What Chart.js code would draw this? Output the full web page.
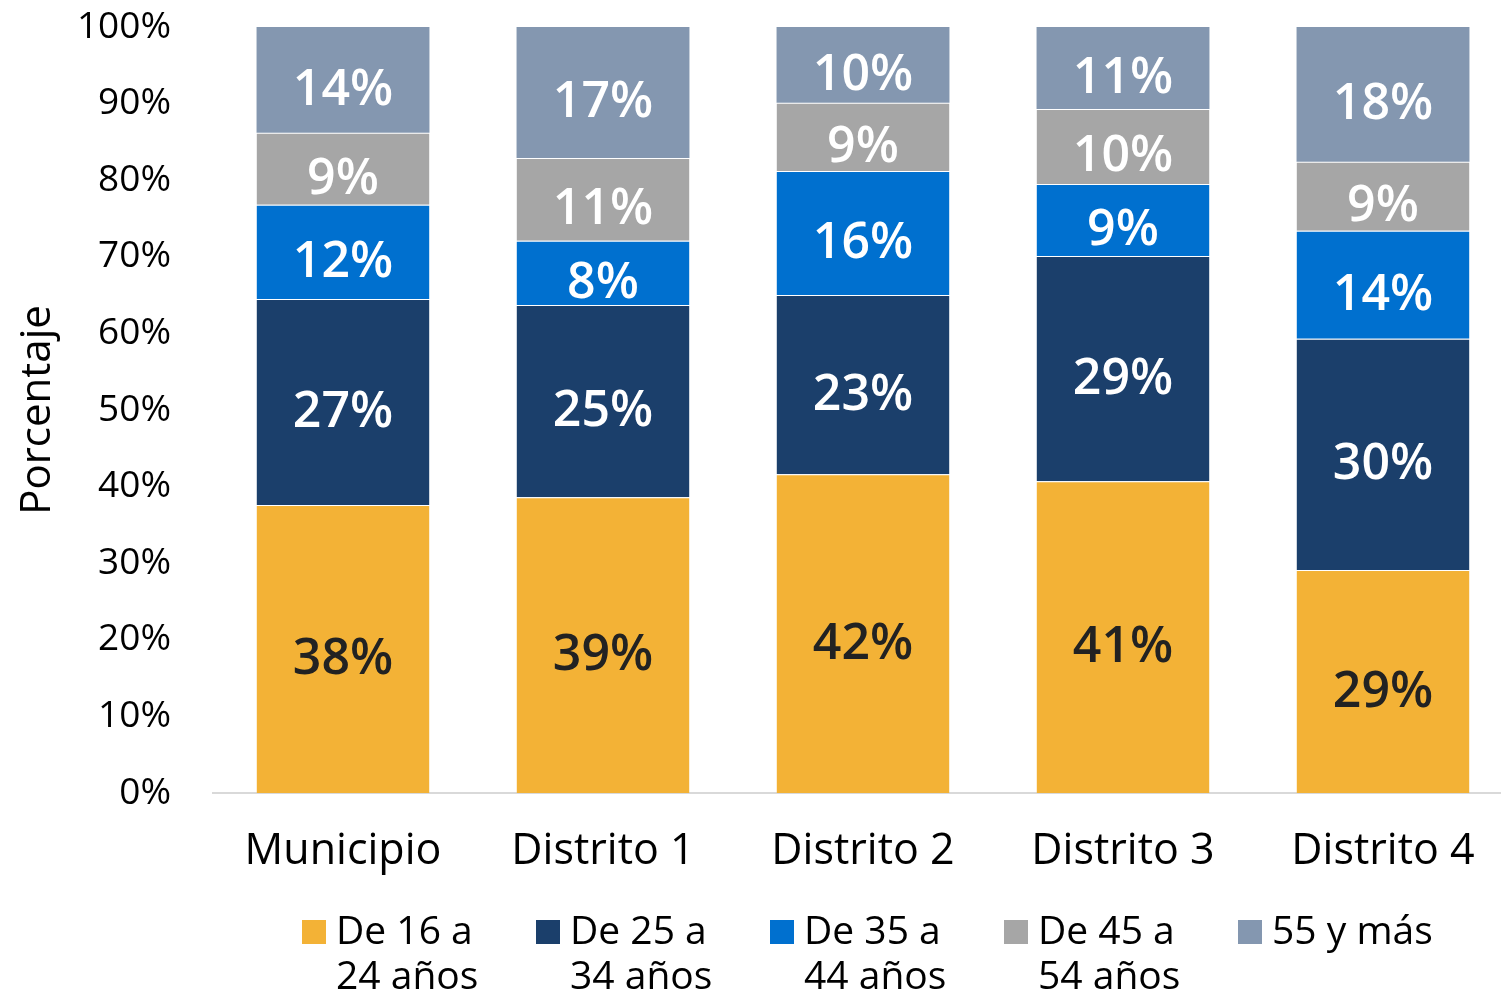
<!DOCTYPE html>
<html>
<head>
<meta charset="utf-8">
<script src="https://cdn.jsdelivr.net/npm/chart.js@4/dist/chart.umd.min.js"></script>
<style>
  html, body { margin: 0; padding: 0; background: #ffffff; overflow: hidden; }
  #wrap { position: relative; width: 1520px; height: 994px; }
</style>
</head>
<body>
<div id="wrap"><canvas id="c" width="1520" height="994"></canvas></div>
<script>
// ---- data ----
const categories = ["Municipio", "Distrito 1", "Distrito 2", "Distrito 3", "Distrito 4"];
const seriesNames = ["De 16 a 24 años", "De 25 a 34 años", "De 35 a 44 años", "De 45 a 54 años", "55 y más"];
const legendLines = [["De 16 a", "24 años"], ["De 25 a", "34 años"], ["De 35 a", "44 años"], ["De 45 a", "54 años"], ["55 y más"]];
const age16to24 = [37.6, 38.6, 41.6, 40.7, 29.1];
const age25to34 = [26.9, 25.1, 23.4, 29.4, 30.2];
const age35to44 = [12.3, 8.4, 16.2, 9.4, 14.1];
const age45to54 = [9.4, 10.8, 8.9, 9.8, 9.0];
const age55plus = [13.8, 17.1, 9.9, 10.7, 17.6];
const yTicks = [0, 10, 20, 30, 40, 50, 60, 70, 80, 90, 100];
const yTitle = "Porcentaje";

// ---- styles ----
const colors = ["#F3B236", "#1B3F6B", "#0070CF", "#A6A6A6", "#8497B0"];
const labelColors = ["#222222", "#ffffff", "#ffffff", "#ffffff", "#ffffff"];
const FONT = "'Open Sans', sans-serif";
const seriesValues = [age16to24, age25to34, age35to44, age45to54, age55plus];

const datasets = seriesValues.map((vals, i) => ({
  label: seriesNames[i],
  data: vals,
  backgroundColor: colors[i],
  borderColor: "rgba(255,255,255,0.55)",
  borderWidth: { top: i === 4 ? 0 : 1, left: 0, right: 0, bottom: 0 },
  borderSkipped: false,
  categoryPercentage: 1.0,
  barPercentage: 0.665
}));

const valueLabels = {
  id: "valueLabels",
  afterDatasetsDraw(chart) {
    const ctx = chart.ctx;
    ctx.save();
    ctx.font = "600 50px " + FONT;
    ctx.textAlign = "center";
    ctx.textBaseline = "alphabetic";
    chart.data.datasets.forEach((ds, di) => {
      const meta = chart.getDatasetMeta(di);
      meta.data.forEach((bar, j) => {
        const v = ds.data[j];
        const mid = (bar.y + bar.base) / 2;
        ctx.fillStyle = labelColors[di];
        ctx.fillText(Math.round(v) + "%", bar.x, mid + 18 + 7);
      });
    });
    ctx.restore();
  }
};

const customLegend = {
  id: "customLegend",
  afterDraw(chart) {
    const ctx = chart.ctx;
    ctx.save();
    ctx.font = "39px " + FONT;
    ctx.textAlign = "left";
    ctx.textBaseline = "alphabetic";
    const startX = 302, step = 234, boxTop = 920, box = 24;
    chart.data.datasets.forEach((ds, i) => {
      const x = startX + i * step;
      ctx.fillStyle = ds.backgroundColor;
      ctx.fillRect(x, boxTop, box, box);
      ctx.fillStyle = "#000000";
      legendLines[i].forEach((line, k) => {
        ctx.fillText(line, x + 34, 944 + k * 45);
      });
    });
    ctx.restore();
  }
};

new Chart(document.getElementById("c"), {
  type: "bar",
  data: { labels: categories, datasets },
  options: {
    responsive: false,
    animation: false,
    devicePixelRatio: 1,
    layout: { padding: { left: 0, right: 7, top: 27, bottom: 111 } },
    plugins: {
      legend: { display: false },
      tooltip: { enabled: false }
    },
    scales: {
      x: {
        stacked: true,
        grid: { display: false, drawTicks: false },
        border: { display: true, color: "#D9D9D9", width: 2 },
        ticks: { color: "#000000", font: { family: FONT, size: 43 }, padding: 33, maxRotation: 0 },
        afterFit(scale) { scale.height = 90; scale.paddingLeft = 0; scale.paddingRight = 0; }
      },
      y: {
        stacked: true,
        min: 0,
        max: 100,
        afterBuildTicks(scale) { scale.ticks = yTicks.map(v => ({ value: v })); },
        grid: { display: false, drawTicks: false },
        border: { display: false },
        ticks: {
          color: "#000000",
          font: { family: FONT, size: 37 },
          padding: 42,
          callback: v => v + "%"
        },
        title: {
          display: true,
          text: yTitle,
          color: "#000000",
          font: { family: FONT, size: 42 },
          padding: { top: 13, bottom: 0 }
        },
        afterFit(scale) { scale.width = 213; scale.paddingTop = 0; scale.paddingBottom = 0; }
      }
    }
  },
  plugins: [valueLabels, customLegend]
});
</script>
</body>
</html>
